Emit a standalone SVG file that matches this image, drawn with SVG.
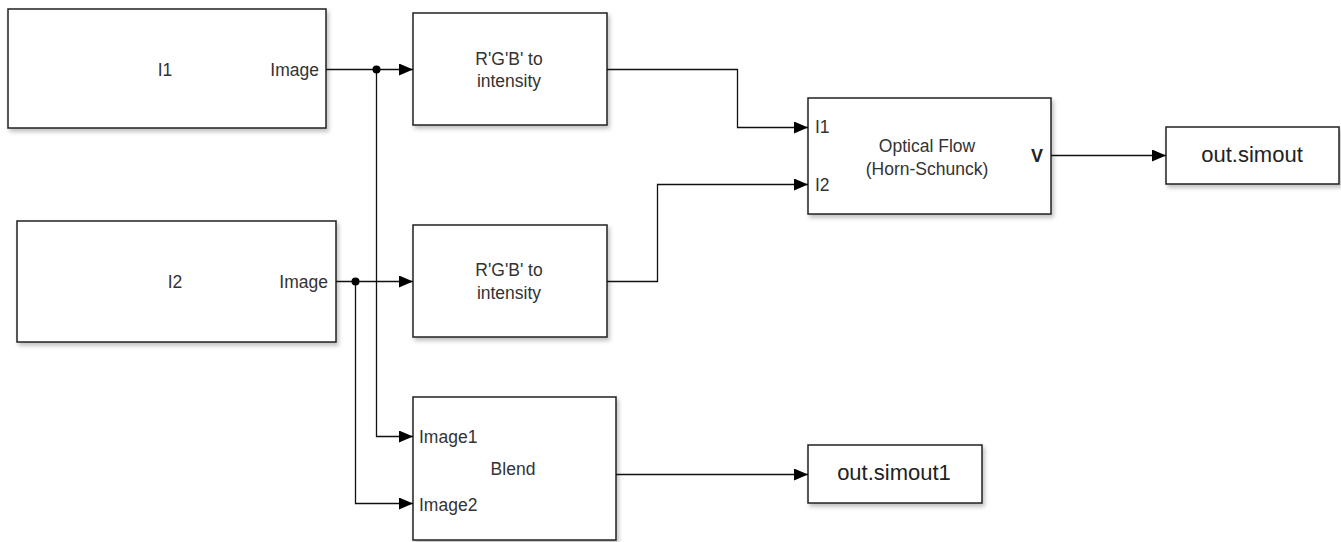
<svg xmlns="http://www.w3.org/2000/svg" width="1341" height="542" viewBox="0 0 1341 542">
<style>
.blk{fill:#fff;stroke:#222;stroke-width:1.5;filter:url(#sh)}
.t{font-family:"Liberation Sans",Arial,sans-serif;font-size:17.5px;fill:#333}
.big{font-size:22px;fill:#222}
.w{fill:none;stroke:#111;stroke-width:1.3}
</style>
<defs>
<filter id="sh" x="-5%" y="-5%" width="115%" height="120%">
<feDropShadow dx="2" dy="3" stdDeviation="2" flood-color="#000" flood-opacity="0.25"/>
</filter>
<marker id="ar" markerWidth="14" markerHeight="12" refX="14" refY="6" orient="auto" markerUnits="userSpaceOnUse">
<path d="M0,0 L14,6 L0,12 Z" fill="#000"/>
</marker>
</defs>
<rect width="1341" height="542" fill="#fff"/>
<g id="I1">
<rect class="blk" x="8" y="9" width="318" height="119"/>
<text class="t" x="165" y="76" text-anchor="middle">I1</text>
<text class="t" x="319" y="76" text-anchor="end">Image</text>
</g>
<g id="I2">
<rect class="blk" x="17" y="221" width="319" height="121"/>
<text class="t" x="175" y="288" text-anchor="middle">I2</text>
<text class="t" x="328" y="288" text-anchor="end">Image</text>
</g>
<g id="RGB1">
<rect class="blk" x="413" y="13" width="194" height="112"/>
<text class="t" x="509" y="65" text-anchor="middle">R'G'B' to</text>
<text class="t" x="509" y="87" text-anchor="middle">intensity</text>
</g>
<g id="RGB2">
<rect class="blk" x="413" y="225" width="194" height="112"/>
<text class="t" x="509" y="276" text-anchor="middle">R'G'B' to</text>
<text class="t" x="509" y="299" text-anchor="middle">intensity</text>
</g>
<g id="Blend">
<rect class="blk" x="413" y="397" width="203" height="143"/>
<text class="t" x="419" y="443">Image1</text>
<text class="t" x="419" y="511">Image2</text>
<text class="t" x="513" y="475" text-anchor="middle">Blend</text>
</g>
<g id="OpticalFlow">
<rect class="blk" x="808" y="98" width="243" height="116"/>
<text class="t" x="815" y="133">I1</text>
<text class="t" x="815" y="191">I2</text>
<text class="t" x="927" y="152" text-anchor="middle">Optical Flow</text>
<text class="t" x="927" y="175" text-anchor="middle">(Horn-Schunck)</text>
<text class="t" x="1043" y="162" text-anchor="end" style="font-size:18px;font-weight:bold;fill:#222">V</text>
</g>
<g id="simout">
<rect class="blk" x="1166" y="127" width="173" height="57"/>
<text class="t big" x="1252" y="162" text-anchor="middle">out.simout</text>
</g>
<g id="simout1">
<rect class="blk" x="808" y="445" width="174" height="58"/>
<text class="t big" x="894" y="480" text-anchor="middle">out.simout1</text>
</g>
<g id="connectors">
<path class="w" d="M326,69.5 H413" marker-end="url(#ar)"/>
<path class="w" d="M376.5,69.5 V436.5 H413" marker-end="url(#ar)"/>
<path class="w" d="M336,281.5 H413" marker-end="url(#ar)"/>
<path class="w" d="M355.5,281.5 V503.5 H413" marker-end="url(#ar)"/>
<circle cx="376.5" cy="69.5" r="4" fill="#000"/>
<circle cx="355.5" cy="281.5" r="4" fill="#000"/>
<path class="w" d="M607,69.5 H737.5 V127.5 H808" marker-end="url(#ar)"/>
<path class="w" d="M607,281.5 H657.5 V184.5 H808" marker-end="url(#ar)"/>
<path class="w" d="M1051,155.5 H1166" marker-end="url(#ar)"/>
<path class="w" d="M616,474.5 H808" marker-end="url(#ar)"/>
</g>
</svg>
